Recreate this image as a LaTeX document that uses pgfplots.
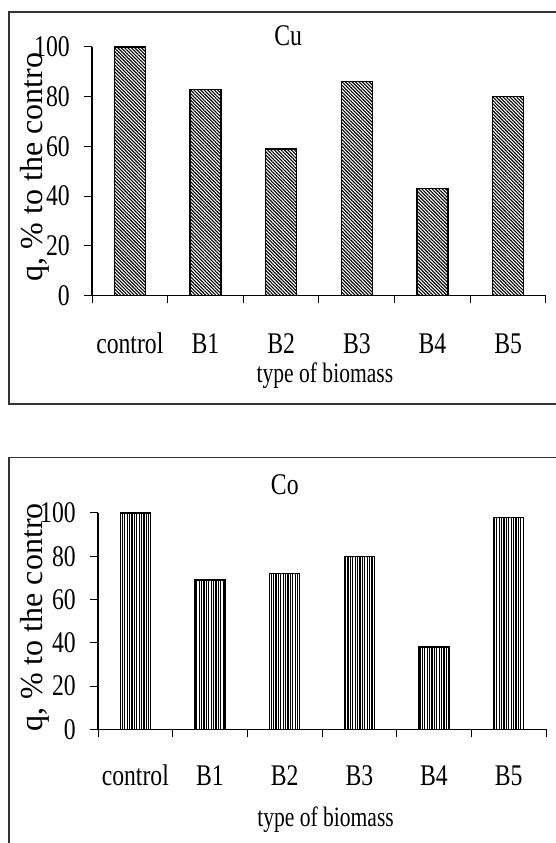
\documentclass[border=0pt]{standalone}
\usepackage{fontspec}
\setmainfont{Liberation Serif}
\newfontfamily\cond{Liberation Serif}[FakeStretch=0.79]
\newfontfamily\condx{Liberation Serif}[FakeStretch=0.77]
\usepackage{pgfplots}
\pgfplotsset{compat=1.18}
\usetikzlibrary{patterns.meta}

\pgfplotsset{
  biomass/.style={
    scale only axis,
    anchor=south west,
    xmin=-0.5, xmax=5.5,
    ymin=0, ymax=100,
    axis lines*=left,
    axis line style={line width=1.1pt, black},
    xtick={-0.5,0.5,1.5,2.5,3.5,4.5,5.5},
    x tick label as interval,
    xticklabels={control,B1,B2,B3,B4,B5},
    ytick={0,20,40,60,80,100},
    tick align=outside,
    major tick length=8pt,
    tick style={line width=1pt, black},
    /pgf/number format/assume math mode=true,
    tick label style={font=\cond\fontsize{30}{32}\selectfont},
    xticklabel style={anchor=base, inner sep=0pt, yshift=-50pt},
    yticklabel style={anchor=east, inner sep=0pt, xshift=-14pt},
    ylabel={q, \% to the contro},
    ylabel style={font=\fontsize{32}{34}\selectfont, anchor=base, inner sep=0pt},
    xlabel style={font=\condx\fontsize{28}{30}\selectfont, anchor=base, inner sep=0pt},
    title style={font=\cond\fontsize{30}{32}\selectfont, anchor=base, inner sep=0pt},
    clip=false,
  }
}

\begin{document}
\begin{tikzpicture}[x=1pt,y=1pt]
\path[use as bounding box] (0,0) rectangle (556,843);
\fill[white] (0,0) rectangle (556,843);
% frames (cut by the picture's edge on the right and bottom)
\draw[line width=1.3pt, black!80] (558,831) -- (9,831) -- (9,439) -- (558,439);
\draw[line width=1.3pt, black!80] (558,385.3) -- (9,385.3) -- (9,-2);

% ---------- Cu ----------
\begin{axis}[biomass,
  at={(92pt,547.5pt)}, width=454pt, height=248.5pt,
  bar width=31pt,
  title={Cu},
  title style={at={(axis description cs:0.432,0.982)}},
  xlabel={type of biomass},
  xlabel style={at={(axis description cs:0.513,0)}, yshift=-87pt},
  ylabel style={at={(axis description cs:-0.108,0.517)}},
]
\addplot[ybar, draw=black, line width=1.4pt,
  pattern={Lines[angle=-45,distance=2.4pt,line width=1.1pt]}, pattern color=black]
  coordinates {(0,100) (1,83) (2,59) (3,86) (4,43) (5,80)};
\end{axis}

% ---------- Co ----------
\begin{axis}[biomass,
  at={(98pt,113.7pt)}, width=448pt, height=216.3pt,
  bar width=30pt,
  title={Co},
  title style={at={(axis description cs:0.417,1.06)}},
  xlabel={type of biomass},
  xlabel style={at={(axis description cs:0.508,0)}, yshift=-97.4pt},
  xticklabel style={yshift=1.6pt},
  ylabel style={at={(axis description cs:-0.1228,0.517)}},
]
\addplot[ybar, draw=black, line width=1.4pt,
  pattern={Lines[angle=90,distance=2.4pt,line width=1.1pt]}, pattern color=black]
  coordinates {(0,100) (1,69) (2,72) (3,80) (4,38) (5,98)};
\end{axis}
\end{tikzpicture}
\end{document}
